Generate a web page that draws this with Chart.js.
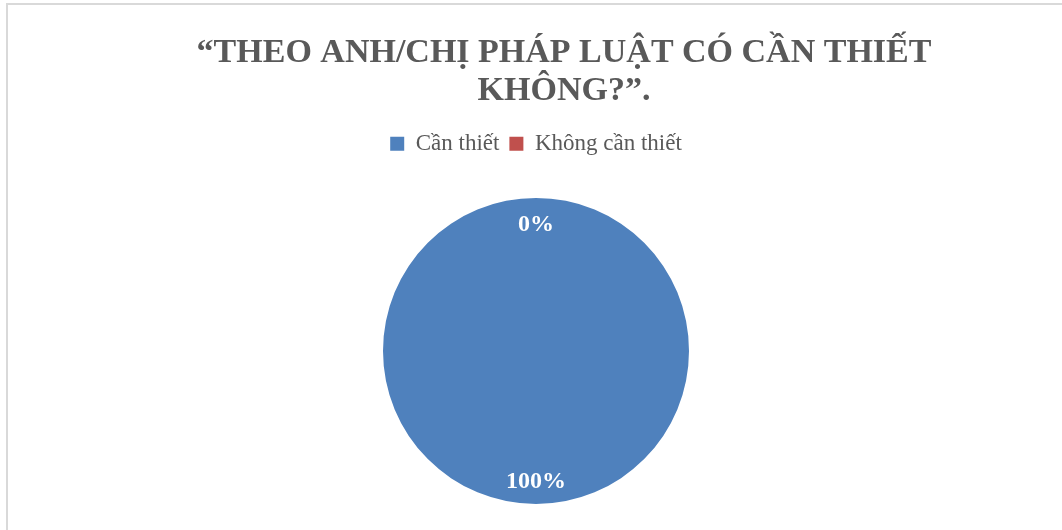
<!DOCTYPE html>
<html>
<head>
<meta charset="utf-8">
<script src="https://cdn.jsdelivr.net/npm/chart.js@4.4.1/dist/chart.umd.min.js"></script>
<style>
  html, body { margin: 0; padding: 0; background: #fff; overflow: hidden; }
  #wrap { position: relative; width: 1062px; height: 530px; overflow: hidden; }
  #c { position: absolute; left: 0; top: 0; }
  #frame {
    position: absolute; left: 6px; top: 3px; width: 1100px; height: 600px;
    border-left: 2px solid #d9d9d9; border-top: 2px solid #d9d9d9;
    box-sizing: border-box; pointer-events: none;
  }
</style>
</head>
<body>
<div id="wrap">
  <canvas id="c" width="1062" height="560"></canvas>
  <div id="frame"></div>
</div>
<script>
// Survey answers, in percent
const categories = ['Cần thiết', 'Không cần thiết'];
const percentValues = [100, 0];
const sliceColors = ['#4F81BD', '#C0504D'];
const titleLines = ['“THEO ANH/CHỊ PHÁP LUẬT CÓ CẦN THIẾT', 'KHÔNG?”.'];

const textGray = '#595959';
const serif = "'Liberation Serif', 'Times New Roman', serif";

// Nudge the title block to the right of the legend/pie axis
const titleShift = {
  id: 'titleShift',
  afterLayout(chart) {
    const t = chart.titleBlock;
    if (t) { t.left += 28; t.right += 28; }
  }
};

// Percent labels placed inside the pie, on each slice's mid-angle
const sliceLabels = {
  id: 'sliceLabels',
  afterDatasetsDraw(chart) {
    const ctx = chart.ctx;
    const meta = chart.getDatasetMeta(0);
    ctx.save();
    ctx.font = 'bold 24px ' + serif;
    ctx.fillStyle = '#ffffff';
    ctx.textAlign = 'center';
    ctx.textBaseline = 'middle';
    meta.data.forEach((arc, i) => {
      const p = arc.getProps(['x', 'y', 'startAngle', 'endAngle', 'outerRadius'], true);
      const mid = (p.startAngle + p.endAngle) / 2;
      const r = p.outerRadius * 0.84;
      ctx.fillText(percentValues[i] + '%', p.x + Math.cos(mid) * r, p.y + Math.sin(mid) * r + 2.5);
    });
    ctx.restore();
  }
};

new Chart(document.getElementById('c'), {
  type: 'pie',
  data: {
    labels: categories,
    datasets: [{
      data: percentValues,
      backgroundColor: sliceColors,
      borderWidth: 0,
      radius: 153
    }]
  },
  options: {
    responsive: false,
    animation: false,
    layout: { padding: { top: 34, left: 10, right: 0, bottom: 23.5 } },
    plugins: {
      title: {
        display: true,
        text: titleLines,
        color: textGray,
        font: { family: serif, size: 34, weight: 'bold', lineHeight: 1.13 },
        padding: { top: 0, bottom: 11.5 }
      },
      legend: {
        position: 'top',
        labels: {
          color: textGray,
          font: { family: serif, size: 23 },
          boxWidth: 14,
          boxHeight: 14,
          padding: 10
        }
      },
      tooltip: { enabled: false }
    }
  },
  plugins: [titleShift, sliceLabels]
});
</script>
</body>
</html>
